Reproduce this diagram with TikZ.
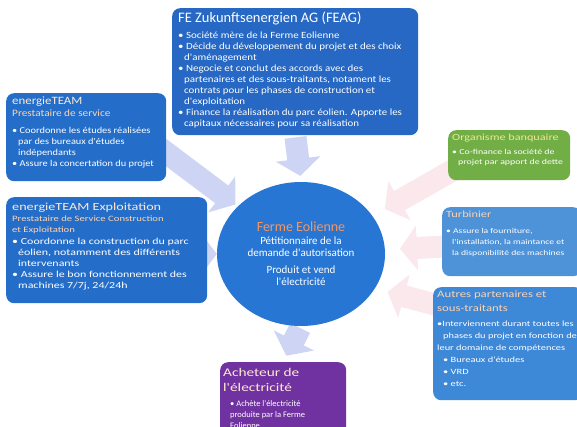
\documentclass[tikz,border=0pt]{standalone}
\usepackage{fontspec}
\setmainfont{Carlito}
\newfontfamily\fnorm{Carlito}
\newfontfamily\fwide{Carlito}[FakeStretch=1.15]
\newfontfamily\fwider{Carlito}[FakeStretch=1.3]
\usetikzlibrary{shapes,arrows.meta,positioning,calc,backgrounds}

\definecolor{feagblue}{RGB}{38,104,196}
\definecolor{teamblue}{RGB}{36,110,202}
\definecolor{farmblue}{RGB}{40,118,212}
\definecolor{turbblue}{RGB}{78,146,216}
\definecolor{partblue}{RGB}{62,136,216}
\definecolor{bankgreen}{RGB}{114,174,70}
\definecolor{buyerpurple}{RGB}{112,50,160}
\definecolor{titlepeach}{RGB}{255,232,212}
\definecolor{subpeach}{RGB}{255,212,176}
\definecolor{farmorange}{RGB}{244,150,96}
\definecolor{bankyellow}{RGB}{238,232,150}
\definecolor{arrowlav}{RGB}{206,212,244}
\definecolor{arrowpink}{RGB}{250,232,236}

% text block of a panel: width, height, content
\newcommand{\panel}[3]{\parbox[t][#2][t]{#1}{\raggedright #3}}
\newcommand{\fsz}[2]{\fontsize{#1}{#2}\selectfont}
\newcommand{\bul}{\textbullet\ }
\newcommand{\ind}{\hspace*{6pt}}

\begin{document}
\begin{tikzpicture}[x=1pt,y=-1pt,
    panelbox/.style={fill=#1, rounded corners=8pt, anchor=north west,
      text=white, inner xsep=6pt, inner ysep=4pt},
    bigarrow/.style={draw=#1, line width=22pt,
      -{Triangle[length=17pt,width=44pt]}}]
  \useasboundingbox (0,0) rectangle (577,427);

  % the society at the top
  \node[panelbox=feagblue] (feag) at (172,8) {\panel{234pt}{119pt}{%
    {\fnorm\fsz{14.5}{16}FE Zukunftsenergien AG (FEAG)\par}\vspace{5pt}
    \fwide\fsz{9.5}{11}%
    \bul Société mère de la Ferme Eolienne\\
    \bul Décide du développement du projet et des choix\\
    \ind d'aménagement\\
    \bul Negocie et conclut des accords avec des\\
    \ind partenaires et des sous-traitants, notament les\\
    \ind contrats pour les phases de construction et\\
    \ind d'exploitation\\
    \bul Finance la réalisation du parc éolien. Apporte les\\
    \ind capitaux nécessaires pour sa réalisation}};

  % service providers on the left
  \node[panelbox=teamblue] (team) at (6,93) {\panel{148pt}{80pt}{%
    {\fwide\fsz{11.2}{13}\color{titlepeach}energieTEAM\par}
    {\fwide\fsz{9.8}{12}\color{subpeach}Prestataire de service\par}\vspace{6pt}
    \fwide\fsz{9}{11}%
    \bul Coordonne les études réalisées\\
    \ind par des bureaux d'études\\
    \ind indépendants\\
    \bul Assure la concertation du projet}};
  \node[panelbox=teamblue] (expl) at (6,197) {\panel{189pt}{98pt}{%
    \vspace*{2pt}{\fwider\fsz{10.9}{12}\color{titlepeach}energieTEAM Exploitation\par}
    {\fwider\fsz{8.2}{11}\color{subpeach}Prestataire de Service Construction\\
     et Exploitation\par}\vspace{1pt}
    \fwider\fsz{9.2}{11}%
    \bul Coordonne la construction du parc\\
    \ind éolien, notamment des différents\\
    \ind intervenants\\
    \bul Assure le bon fonctionnement des\\
    \ind machines 7/7j, 24/24h}};

  % the wind farm
  \node[ellipse, fill=farmblue, minimum width=168pt, minimum height=144pt,
    align=center, text=white, font=\fnorm\fsz{11}{12.5}]
    (farm) at (301,254) {%
    {\fsz{14}{15}\color{farmorange}Ferme Eolienne}\\
    Pétitionnaire de la\\ demande d'autorisation\\[4pt]
    Produit et vend\\ l'électricité};

  % partners on the right
  \node[panelbox=bankgreen, inner xsep=4pt] (bank) at (448,130) {\panel{114pt}{42pt}{%
    {\fwider\fsz{9.4}{11}\color{bankyellow}Organisme banquaire\par}\vspace{4pt}
    \fwider\fsz{7.6}{10}%
    \bul Co-finance la société de\\
    \ind projet par apport de dette}};
  \node[panelbox=turbblue, inner xsep=4pt] (turb) at (442,207) {\panel{131pt}{61pt}{%
    {\fwider\fsz{9.5}{11}\color{subpeach}Turbinier\par}\vspace{5pt}
    \fwider\fsz{7.4}{11}%
    \bul Assure la fourniture,\\
    \ind l'installation, la maintance et\\
    \ind la disponibilité des machines}};
  \node[panelbox=partblue, inner xsep=4pt] (part) at (433,287) {\panel{142pt}{105pt}{%
    {\fwider\fsz{9.8}{14}\color{subpeach}Autres partenaires et\\ sous-traitants\par}\vspace{3pt}
    \fwider\fsz{8}{12}%
    \textbullet Interviennent durant toutes les\\
    \ind phases du projet en fonction de\\
    leur domaine de compétences\\
    \ind\bul Bureaux d'études\\
    \ind\bul VRD\\
    \ind\bul etc.}};

  % buyer at the bottom
  \node[panelbox=buyerpurple, inner xsep=3pt] (buyer) at (220,362) {\panel{120pt}{76pt}{%
    \vspace*{2pt}{\fwider\fsz{11.8}{15}\color{titlepeach}Acheteur de\\ l'électricité\par}\vspace{4pt}
    \fnorm\fsz{8.5}{11}%
    \hspace*{7pt}\bul Achète l'électricité\\
    \hspace*{7pt}produite par la Ferme\\
    \hspace*{7pt}Eolienne}};

  % block arrows behind the panels
  \coordinate (teamtail) at (160,148);
  \coordinate (expltail) at (192,254);
  \coordinate (banktail) at (462,165);
  \coordinate (turbtail) at (455,246);
  \coordinate (parttail) at (448,308);
  \begin{scope}[on background layer]
    \fill[white] (0,0) rectangle (577,427);
    \draw[bigarrow=arrowlav, shorten <=2pt, shorten >=6pt] (feag.south) -- (farm.north);
    \draw[bigarrow=arrowlav, shorten >=3pt] (teamtail) -- (farm.143);
    \draw[bigarrow=arrowlav] (expltail) -- (farm.180);
    \draw[bigarrow=arrowpink, shorten >=14pt] (banktail) -- (farm.28);
    \draw[bigarrow=arrowpink, shorten >=15pt] (turbtail) -- (farm.3);
    \draw[bigarrow=arrowpink, shorten >=13pt] (parttail) -- (farm.-25);
    \draw[bigarrow=arrowlav, shorten <=2pt, shorten >=7pt] (farm.south) -- (buyer.north);
  \end{scope}
\end{tikzpicture}
\end{document}
